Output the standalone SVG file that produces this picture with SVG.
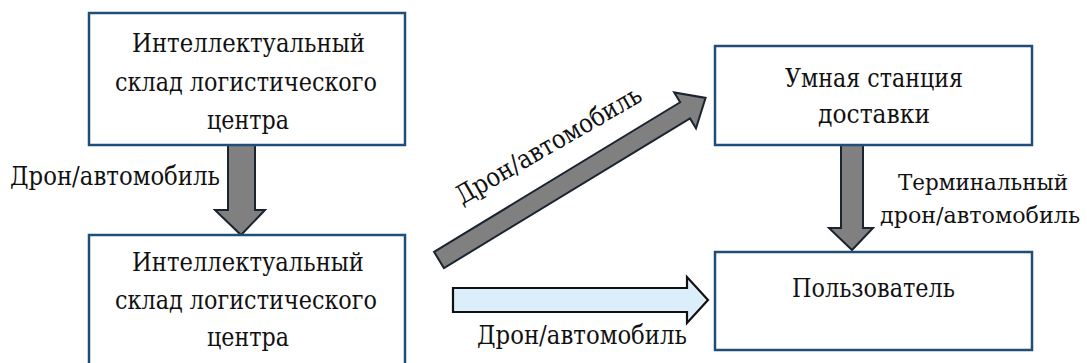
<svg xmlns="http://www.w3.org/2000/svg" width="1087" height="363" viewBox="0 0 1087 363" font-family="'DejaVu Serif', 'Liberation Serif', serif" font-size="26">
<style>
.box{fill:#fff;stroke:#1F4E79;stroke-width:2.5}
.t{fill:#111}
.ga{fill:#808080;stroke:#1a2430;stroke-width:2;stroke-linejoin:miter}
.ba{fill:#DDEEFB;stroke:#111;stroke-width:2.2;stroke-linejoin:miter}
</style>
<rect width="1087" height="363" fill="#fff"/>
<g id="connectors">
<path class="ga" d="M228,145 H255 V210 H265 L241,235 L215,210 H228 Z"/>
<path class="ga" d="M841,145 H863 V228 H873 L852,250 L829,228 H841 Z"/>
<path class="ga" transform="translate(439,260) rotate(-31.3)" d="M0,-9.5 H288 V-21 L312,0 L288,21 V9.5 H0 Z"/>
<path class="ba" d="M453,288 H687 V277 L708,300 L687,323 V312 H453 Z"/>
<text class="t" x="10" y="185" textLength="210" lengthAdjust="spacingAndGlyphs">Дрон/автомобиль</text>
<text class="t" transform="translate(462,205) rotate(-30)" textLength="210" lengthAdjust="spacingAndGlyphs">Дрон/автомобиль</text>
<text class="t" x="477" y="344" textLength="210" lengthAdjust="spacingAndGlyphs">Дрон/автомобиль</text>
<text class="t" x="898" y="190" font-size="23" textLength="170" lengthAdjust="spacingAndGlyphs">Терминальный</text>
<text class="t" x="880" y="223" font-size="22" textLength="200" lengthAdjust="spacingAndGlyphs">дрон/автомобиль</text>
</g>
<g id="node1">
<rect class="box" x="89" y="13" width="316" height="132"/>
<text class="t" x="132" y="52" textLength="233" lengthAdjust="spacingAndGlyphs">Интеллектуальный</text>
<text class="t" x="115" y="91" textLength="262" lengthAdjust="spacingAndGlyphs">склад логистического</text>
<text class="t" x="207" y="129" textLength="82" lengthAdjust="spacingAndGlyphs">центра</text>
</g>
<g id="node2">
<rect class="box" x="89" y="235" width="316" height="140"/>
<text class="t" x="132" y="271" textLength="232" lengthAdjust="spacingAndGlyphs">Интеллектуальный</text>
<text class="t" x="115" y="309" textLength="262" lengthAdjust="spacingAndGlyphs">склад логистического</text>
<text class="t" x="207" y="346" textLength="82" lengthAdjust="spacingAndGlyphs">центра</text>
</g>
<g id="node3">
<rect class="box" x="715" y="46" width="317" height="99"/>
<text class="t" x="785" y="87" textLength="178" lengthAdjust="spacingAndGlyphs">Умная станция</text>
<text class="t" x="818" y="123" textLength="112" lengthAdjust="spacingAndGlyphs">доставки</text>
</g>
<g id="node4">
<rect class="box" x="715" y="252" width="317" height="98"/>
<text class="t" x="792" y="297" textLength="163" lengthAdjust="spacingAndGlyphs">Пользователь</text>
</g>
</svg>
